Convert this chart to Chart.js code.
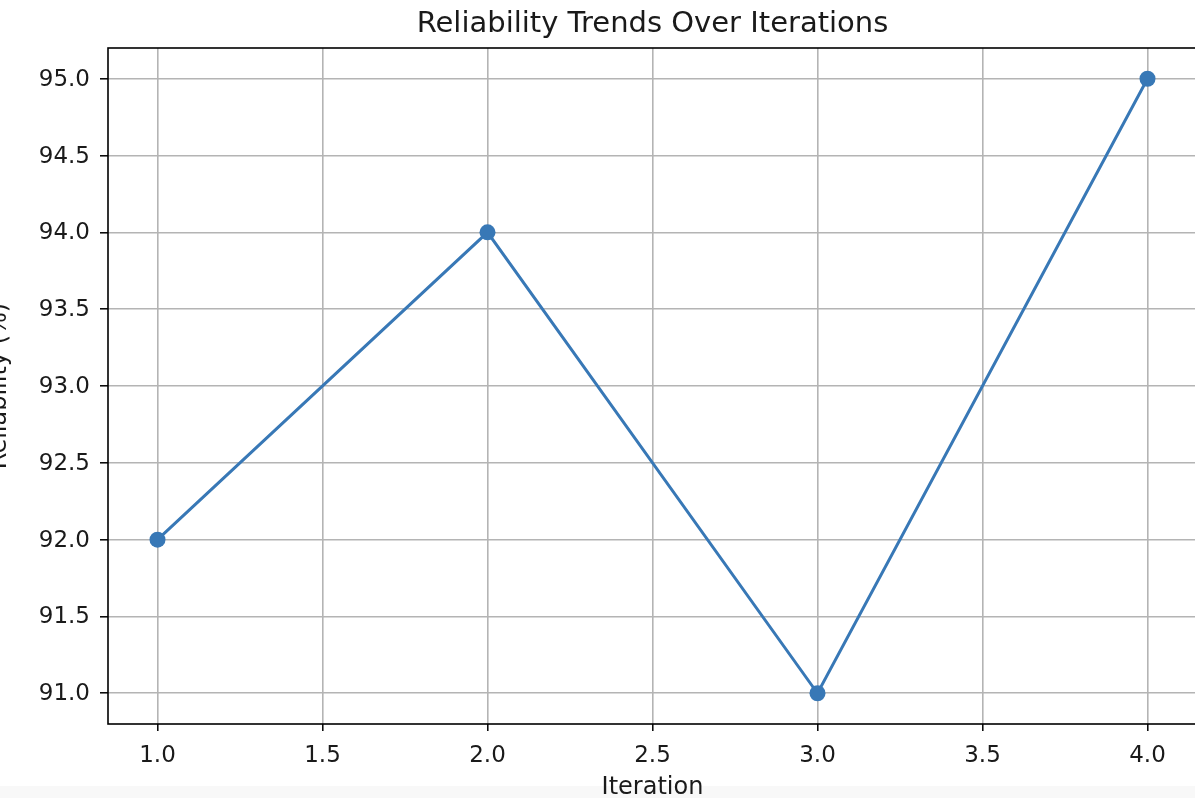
<!DOCTYPE html>
<html>
<head>
<meta charset="utf-8">
<script src="https://cdn.jsdelivr.net/npm/chart.js@4"></script>
<style>
html,body{margin:0;padding:0;background:#fff;overflow:hidden;width:1195px;height:798px;}
#band{position:absolute;left:0;top:786px;width:1195px;height:12px;background:#f8f8f8;}
#wrap{position:absolute;left:-20px;top:0;width:1245px;height:798px;}
</style>
</head>
<body>
<div id="band"></div>
<div id="wrap"><canvas id="chart" width="1245" height="798"></canvas></div>
<script>
const iterations=[1,2,3,4];
const reliability=[92,94,91,95];
const xTicks=[1.0,1.5,2.0,2.5,3.0,3.5,4.0];
const yTicks=[91.0,91.5,92.0,92.5,93.0,93.5,94.0,94.5,95.0];

const FONT="'DejaVu Sans', sans-serif";
const TXT='#1a1a1a';
const BLUE='#3878b6';

// matplotlib-style box round the plot area, title centred over the axes
const frame={
    id:'frame',
    afterLayout(chart){
        const a=chart.chartArea, t=chart.titleBlock;
        if(t){t.left=a.left;t.right=a.right;t.width=a.right-a.left;}
    },
    afterDraw(chart){
        const a=chart.chartArea, ctx=chart.ctx;
        ctx.save();
        ctx.strokeStyle='#000';
        ctx.lineWidth=1.6;
        ctx.strokeRect(a.left,a.top,a.right-a.left,a.bottom-a.top);
        ctx.restore();
    }
};

new Chart(document.getElementById('chart').getContext('2d'),{
    type:'line',
    data:{
        datasets:[{
            label:'Reliability',
            data:iterations.map((x,i)=>({x,y:reliability[i]})),
            borderColor:BLUE,
            backgroundColor:BLUE,
            borderWidth:3,
            pointRadius:8,
            pointHoverRadius:8,
            pointBorderWidth:0,
            tension:0
        }]
    },
    options:{
        responsive:false,
        animation:false,
        layout:{padding:{left:0,right:28,top:0,bottom:0}},
        plugins:{
            legend:{display:false},
            tooltip:{enabled:false},
            title:{display:true,text:'Reliability Trends Over Iterations',color:TXT,
                font:{family:FONT,size:29,weight:'normal',lineHeight:1},padding:{top:10,bottom:9}}
        },
        scales:{
            x:{
                type:'linear',min:0.85,max:4.15,
                afterBuildTicks:s=>{s.ticks=xTicks.map(v=>({value:v}));},
                afterFit:s=>{s.height=74;},
                ticks:{color:TXT,font:{family:FONT,size:23},padding:11,maxRotation:0,callback:v=>v.toFixed(1)},
                grid:{color:'#b4b4b4',lineWidth:1.6,tickColor:'#000',tickLength:7,tickWidth:1.5},
                border:{display:false},
                title:{display:true,text:'Iteration',color:TXT,font:{family:FONT,size:24,lineHeight:0.833},padding:{top:0,bottom:0}}
            },
            y:{
                type:'linear',min:90.8,max:95.2,
                afterBuildTicks:s=>{s.ticks=yTicks.map(v=>({value:v}));},
                afterFit:s=>{s.width=128;},
                ticks:{color:TXT,font:{family:FONT,size:23},padding:10,labelOffset:1,callback:v=>v.toFixed(1)},
                grid:{color:'#b4b4b4',lineWidth:1.6,tickColor:'#000',tickLength:8,tickWidth:1.5},
                border:{display:false},
                title:{display:true,text:'Reliability (%)',color:TXT,font:{family:FONT,size:24,lineHeight:1},padding:{top:8,bottom:0}}
            }
        }
    },
    plugins:[frame]
});
</script>
</body>
</html>
